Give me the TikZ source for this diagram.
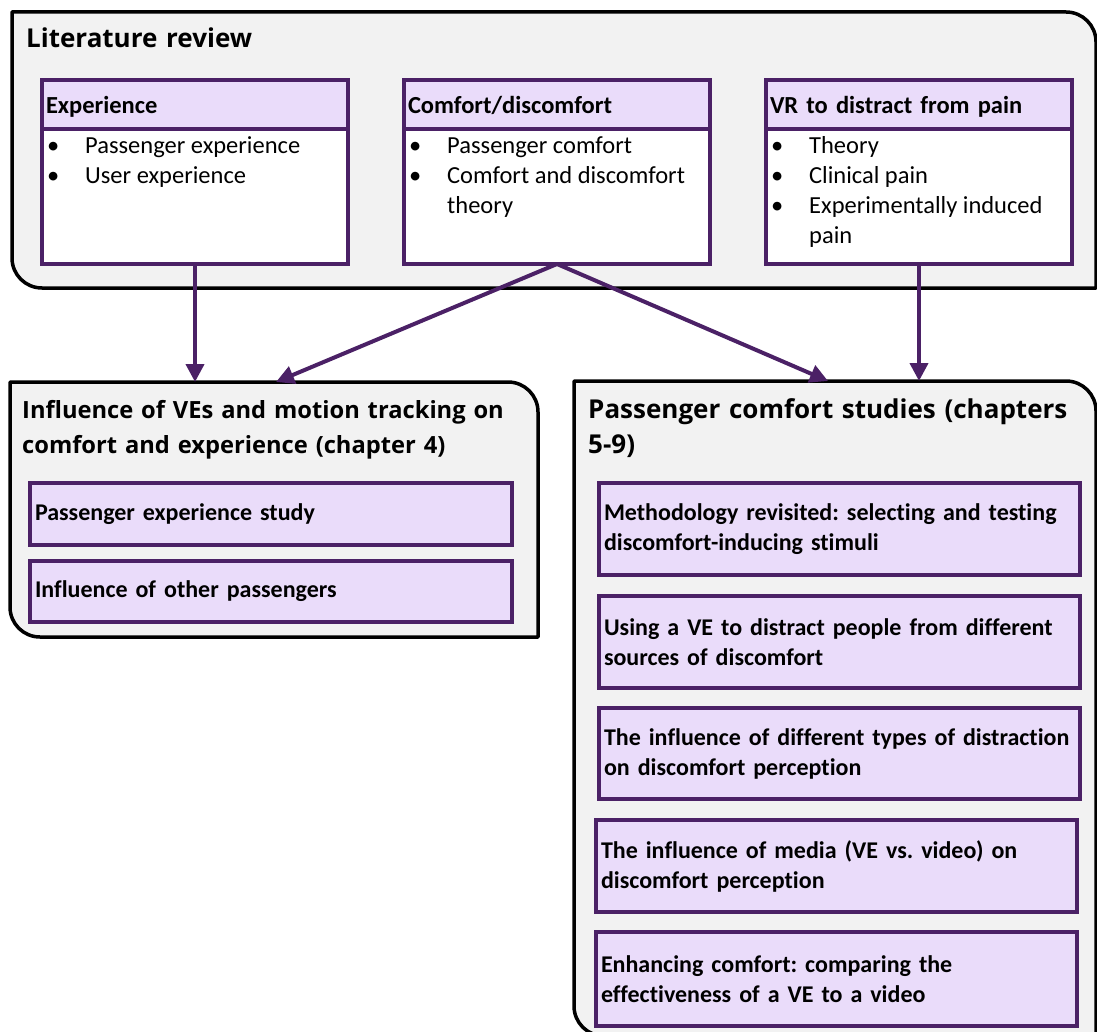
\documentclass[tikz,border=0pt]{standalone}
\usepackage{fontspec}
\setmainfont{Carlito}[Ligatures=NoCommon]
\newfontfamily\titlefont{Open Sans}
\usetikzlibrary{arrows.meta}
\definecolor{framepurple}{RGB}{75,33,102}
\definecolor{headlav}{RGB}{234,220,250}
\definecolor{panelgray}{RGB}{242,242,242}
% bullet followed by a fixed hanging gap
\newcommand\bulitem{\makebox[38pt][l]{\textbullet}}
\frenchspacing
\begin{document}
\begin{tikzpicture}[x=1pt,y=-1pt,
  panel/.style={draw=black, line width=3.5pt, fill=panelgray, line join=round},
  paneltitle/.style={anchor=base west, inner sep=0pt, align=left, text width=#1,
    font=\titlefont\fontsize{23.7}{35}\selectfont\bfseries},
  hdr/.style={draw=framepurple, line width=4pt, fill=headlav, anchor=north west, outer sep=0pt,
    minimum height=49pt, inner xsep=4pt, inner ysep=0pt, text width=298pt, text depth=0pt,
    align=left, font=\fontsize{24.5}{30}\selectfont\bfseries},
  bodybox/.style={draw=framepurple, line width=4pt, fill=white, anchor=north west, outer sep=0pt,
    minimum width=306pt, minimum height=135pt, inner sep=0pt},
  item/.style={anchor=base west, inner sep=0pt, font=\fontsize{24.5}{30}\selectfont},
  study/.style={draw=framepurple, line width=4pt, fill=headlav, anchor=north west, outer sep=0pt,
    inner xsep=5pt, inner ysep=0pt, align=left,
    font=\fontsize{24}{30}\selectfont\bfseries},
  arr/.style={draw=framepurple, line width=4pt, -{Triangle[length=18pt,width=18pt]}}
]
\useasboundingbox (0,0) rectangle (1097,1032);

% ---------- literature review panel ----------
\draw[panel] (12,12) -- (1066,12) .. controls (1082.6,12) and (1096,25.4) .. (1096,42)
  -- (1096,288) -- (42,288) .. controls (25.4,288) and (12,274.6) .. (12,258) -- cycle;
\node[paneltitle=400pt, font=\titlefont\fontsize{26}{35}\selectfont\bfseries]
  (littitle) at (26,48) {Literature review};

% Experience
\node[hdr] (exphead) at (42,80) {Experience};
\node[bodybox] (expbody) at (exphead.south west) {};
\node[item] (exp1) at (47,154) {\bulitem Passenger experience};
\node[item] (exp2) at (47,184) {\bulitem User experience};

% Comfort/discomfort
\node[hdr] (comfhead) at (404,80) {Comfort/discomfort};
\node[bodybox] (comfbody) at (comfhead.south west) {};
\node[item] (comf1) at (409,154) {\bulitem Passenger comfort};
\node[item] (comf2) at (409,184) {\bulitem Comfort and discomfort};
\node[item] (comf3) at (447,214) {theory};

% VR to distract from pain
\node[hdr] (vrhead) at (766,80) {VR to distract from pain};
\node[bodybox] (vrbody) at (vrhead.south west) {};
\node[item] (vr1) at (771,154) {\bulitem Theory};
\node[item] (vr2) at (771,184) {\bulitem Clinical pain};
\node[item] (vr3) at (771,214) {\bulitem Experimentally induced};
\node[item] (vr4) at (809,244) {pain};

% ---------- chapter 4 panel ----------
\draw[panel] (10,382) -- (508,382) .. controls (524.6,382) and (538,395.4) .. (538,412)
  -- (538,637) -- (40,637) .. controls (23.4,637) and (10,623.6) .. (10,607) -- cycle;
\coordinate (infltop) at (276,382);
\node[paneltitle=510pt] (infltitle) at (22,418)
  {Influence of VEs and motion tracking on\\comfort and experience (chapter 4)};
\node[study, text width=472pt, minimum height=62pt] (pes) at (30,483) {Passenger experience study};
\node[study, text width=472pt, minimum height=61pt] (iop) at (30,561) {Influence of other passengers};

% ---------- chapters 5-9 panel ----------
\draw[panel] (574,381) -- (1066,381) .. controls (1082.6,381) and (1096,394.4) .. (1096,411)
  -- (1096,1036) -- (604,1036) .. controls (587.4,1036) and (574,1022.6) .. (574,1006) -- cycle;
\coordinate (pcstop) at (828,381);
\node[paneltitle=500pt, font=\titlefont\fontsize{26}{35}\selectfont\bfseries] (pcstitle) at (588,418)
  {Passenger comfort studies (chapters\\5-9)};
\node[study, text width=471pt, minimum height=92pt] (s1) at (599,483)
  {\mbox{Methodology revisited: selecting and testing}\\discomfort-inducing stimuli};
\node[study, text width=471pt, minimum height=92pt] (s2) at (599,596)
  {\mbox{Using a VE to distract people from different}\\sources of discomfort};
\node[study, text width=471pt, minimum height=91pt] (s3) at (599,708)
  {\mbox{The influence of different types of distraction}\\on discomfort perception};
\node[study, text width=471pt, minimum height=92pt] (s4) at (596,820)
  {The influence of media (VE vs. video) on\\discomfort perception};
\node[study, text width=471pt, minimum height=94pt] (s5) at (596,932)
  {Enhancing comfort: comparing the\\effectiveness of a VE to a video};

% ---------- connectors ----------
\draw[arr] (expbody.south) -- (expbody.south |- infltop);
\draw[arr] (comfbody.south) -- (infltop);
\draw[arr] (comfbody.south) -- (pcstop);
\draw[arr] (vrbody.south) -- (vrbody.south |- pcstop);
\end{tikzpicture}
\end{document}
